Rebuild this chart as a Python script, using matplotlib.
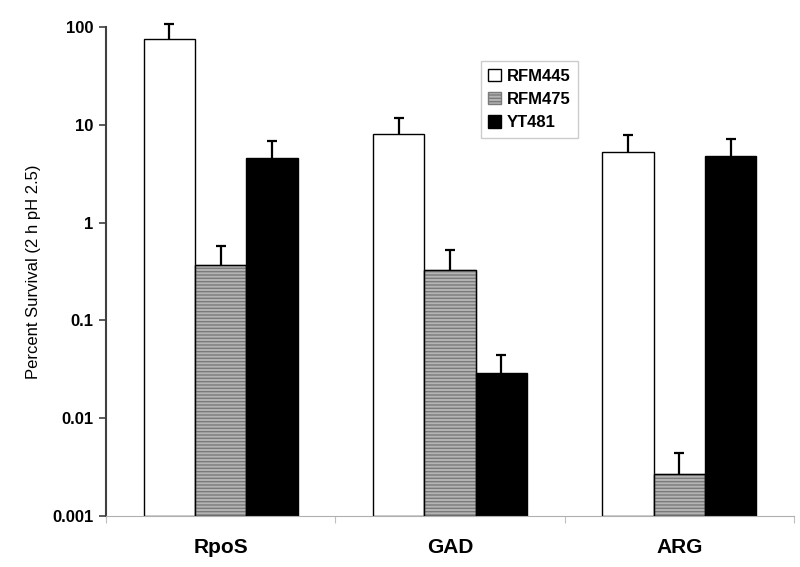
import matplotlib
matplotlib.use("Agg")
import matplotlib.pyplot as plt
import numpy as np

plt.rcParams['font.family'] = ['Liberation Sans', 'DejaVu Sans']
plt.rcParams['hatch.linewidth'] = 1.0

categories = ["RpoS", "GAD", "ARG"]
strains = ["RFM445", "RFM475", "YT481"]
values = {
    "RFM445": [75, 8.1, 5.3],
    "RFM475": [0.37, 0.33, 0.0027],
    "YT481": [4.6, 0.029, 4.8],
}
err_top = {
    "RFM445": [108, 11.8, 7.8],
    "RFM475": [0.58, 0.52, 0.0044],
    "YT481": [6.8, 0.044, 7.1],
}
yticks = [0.001, 0.01, 0.1, 1, 10, 100]
yticklabels = ["0.001", "0.01", "0.1", "1", "10", "100"]

fig = plt.figure(figsize=(8, 5.67), dpi=100)
ax = fig.add_axes([0.1325, 0.09, 0.86, 0.8624])

styles = {
    "RFM445": dict(facecolor="white", edgecolor="black", hatch=None),
    "RFM475": dict(facecolor="#b4b4b4", edgecolor="#7a7a7a", hatch="-----"),
    "YT481": dict(facecolor="black", edgecolor="black", hatch=None),
}
x = np.arange(len(categories))
w = 0.224
cap = 0.022
bottom = 0.001
for i, s in enumerate(strains):
    xs = x + (i - 1) * w
    v = np.array(values[s])
    st = styles[s]
    ax.bar(xs, v - bottom, bottom=bottom, width=w, facecolor=st["facecolor"],
           edgecolor=st["edgecolor"], hatch=st["hatch"], linewidth=1.0,
           label=s, zorder=2)
    if s == "RFM475":
        ax.bar(xs, v - bottom, bottom=bottom, width=w, facecolor="none",
               edgecolor="black", linewidth=1.0, zorder=3)
    top = np.array(err_top[s])
    ax.vlines(xs, v, top, colors="black", linewidth=1.6, zorder=4, clip_on=False)
    ax.hlines(top, xs - cap, xs + cap, colors="black", linewidth=1.6, zorder=4,
              clip_on=False)

ax.set_yscale("log")
ax.set_ylim(0.001, 100)
ax.set_xlim(-0.5, 2.5)
ax.set_yticks(yticks)
ax.set_yticklabels(yticklabels, fontsize=12, fontweight="bold")
ax.yaxis.set_minor_locator(matplotlib.ticker.NullLocator())
ax.set_xticks([-0.5, 0.5, 1.5, 2.5])
ax.set_xticklabels([])
ax.set_xticks(x, minor=True)
ax.set_xticklabels(categories, minor=True, fontsize=15, fontweight="bold")
ax.tick_params(axis="x", which="minor", length=0, pad=16)
ax.tick_params(axis="x", which="major", length=5, color="#c0c0c0")
ax.tick_params(axis="y", which="major", length=5, color="#404040", width=1.2, pad=4)

for sp in ["top", "right"]:
    ax.spines[sp].set_visible(False)
ax.spines["left"].set_color("#404040")
ax.spines["left"].set_linewidth(1.5)
ax.spines["bottom"].set_color("#b0b0b0")

ax.set_ylabel("Percent Survival (2 h pH 2.5)", fontsize=12, labelpad=8)

leg = ax.legend(loc="upper left", bbox_to_anchor=(0.545, 0.93), borderaxespad=0,
                frameon=True, fancybox=False, edgecolor="#c0c0c0",
                prop={"weight": "bold", "size": 12}, handlelength=0.75,
                handleheight=0.75, handletextpad=0.35, labelspacing=0.5,
                borderpad=0.45)
leg.get_frame().set_linewidth(1.0)

fig.savefig("out.png", dpi=100)
